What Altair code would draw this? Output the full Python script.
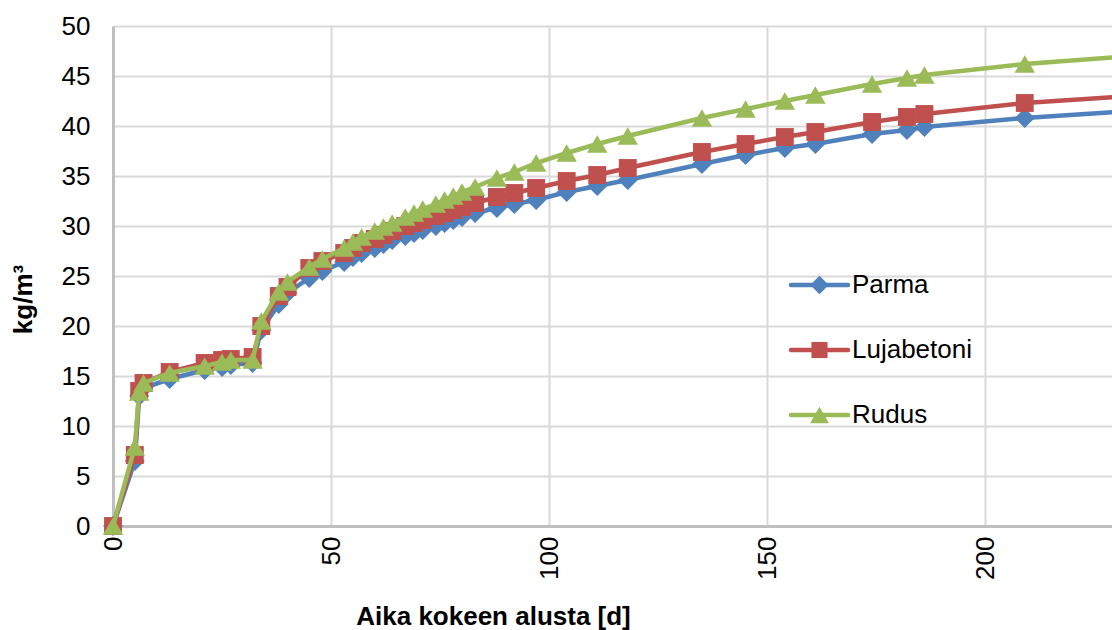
import altair as alt
import pandas as pd

# Measurement days (the last one lies past the right edge of the axis)
days = [0, 5, 6, 7, 13, 21, 25, 27, 32, 34, 38, 40, 45, 48, 53, 55, 57, 60, 62, 64,
        67, 69, 71, 74, 76, 78, 80, 83, 88, 92, 97, 104, 111, 118, 135, 145, 154,
        161, 174, 182, 186, 209, 237]

parma = [0, 6.5, 13.0, 13.8, 14.7, 15.6, 15.9, 16.1, 16.3, 19.6, 22.2, 23.3, 24.8,
         25.5, 26.4, 26.9, 27.3, 27.8, 28.2, 28.6, 29.0, 29.3, 29.6, 30.0, 30.3,
         30.6, 30.9, 31.3, 31.8, 32.2, 32.6, 33.4, 34.0, 34.6, 36.2, 37.1, 37.8,
         38.2, 39.2, 39.6, 39.9, 40.8, 41.6]

lujabetoni = [0, 7.1, 13.5, 14.3, 15.4, 16.3, 16.6, 16.7, 16.9, 20.0, 23.0, 23.9,
              25.8, 26.5, 27.3, 27.8, 28.3, 28.7, 29.1, 29.5, 30.0, 30.3, 30.6, 31.0,
              31.3, 31.6, 31.9, 32.3, 32.9, 33.3, 33.8, 34.5, 35.1, 35.8, 37.4, 38.2,
              38.9, 39.4, 40.4, 40.9, 41.2, 42.3, 43.1]

rudus = [0, 7.9, 13.4, 14.3, 15.3, 16.0, 16.4, 16.6, 16.6, 20.5, 23.4, 24.4, 25.9,
         26.7, 27.8, 28.4, 28.9, 29.5, 29.9, 30.3, 30.9, 31.3, 31.7, 32.2, 32.6,
         33.0, 33.4, 33.9, 34.8, 35.4, 36.3, 37.3, 38.2, 39.0, 40.8, 41.7, 42.5,
         43.1, 44.2, 44.8, 45.1, 46.2, 47.1]

series_names = ["Parma", "Lujabetoni", "Rudus"]
series_colors = ["#4F81BD", "#C0504D", "#9BBB59"]
marker_shapes = ["diamond", "square", "triangle-up"]
marker_sizes = [400, 320, 420]

X_MAX = 229
FONT = "Liberation Sans"
FS = 26

# Legend box layout inside the plot area (pixels)
LEG_X0, LEG_X1 = 678, 735
LEG_Y0, LEG_DY = 259, 65

rows = []
for name, vals in zip(series_names, [parma, lujabetoni, rudus]):
    for d, v in zip(days, vals):
        rows.append({"day": d, "value": v, "series": name})
df = pd.DataFrame(rows)

x_enc = alt.X(
    "day:Q",
    scale=alt.Scale(domain=[0, X_MAX], nice=False, zero=False),
    axis=alt.Axis(
        values=[0, 50, 100, 150, 200],
        labelAngle=270,
        labelAlign="right",
        labelBaseline="middle",
        labelPadding=10,
        labelFontSize=FS,
        labelFont=FONT,
        labelColor="#000000",
        title="Aika kokeen alusta [d]",
        titleFont=FONT,
        titleFontSize=FS,
        titleFontWeight="bold",
        titleColor="#000000",
        titleX=380,
        titleY=98,
        titleAlign="center",
        titleBaseline="alphabetic",
        ticks=False,
        domainColor="#BFBFBF",
        domainWidth=3,
        gridColor="#D9D9D9",
        gridWidth=2,
    ),
)

y_enc = alt.Y(
    "value:Q",
    scale=alt.Scale(domain=[0, 50], nice=False),
    axis=alt.Axis(
        values=list(range(0, 51, 5)),
        labelPadding=23,
        labelFontSize=FS,
        labelFont=FONT,
        labelColor="#000000",
        title="kg/m³",
        titleFont=FONT,
        titleFontSize=FS,
        titleFontWeight="bold",
        titleColor="#000000",
        titleAngle=270,
        titleX=-90,
        titleY=273,
        titleAlign="center",
        titleBaseline="middle",
        ticks=False,
        domainColor="#BFBFBF",
        domainWidth=3,
        gridColor="#D9D9D9",
        gridWidth=2,
    ),
)

color_scale = alt.Scale(domain=series_names, range=series_colors)

base = alt.Chart(df)

layers = []
for name, shape, size in zip(series_names, marker_shapes, marker_sizes):
    sub = base.transform_filter(alt.datum.series == name)
    line = sub.mark_line(strokeWidth=4.5, clip=True).encode(
        x=x_enc, y=y_enc,
        color=alt.Color("series:N", scale=color_scale, legend=None),
        order="day:Q",
    )
    pts = sub.transform_filter(alt.datum.day <= X_MAX).mark_point(
        shape=shape, size=size, filled=True, opacity=1
    ).encode(
        x=x_enc, y=y_enc,
        color=alt.Color("series:N", scale=color_scale, legend=None),
    )
    layers += [line, pts]

# Legend: line sample with marker and label for each series
for i, (name, color, shape, size) in enumerate(
        zip(series_names, series_colors, marker_shapes, marker_sizes)):
    ly = LEG_Y0 + i * LEG_DY
    entry = alt.Chart(pd.DataFrame({"label": [name]}))
    layers.append(entry.mark_rule(color=color, strokeWidth=4.5, strokeCap="round").encode(
        x=alt.value(LEG_X0), x2=alt.value(LEG_X1), y=alt.value(ly)))
    layers.append(entry.mark_point(shape=shape, size=size - 60, filled=True,
                                   color=color, opacity=1).encode(
        x=alt.value((LEG_X0 + LEG_X1) / 2), y=alt.value(ly)))
    layers.append(entry.mark_text(font=FONT, fontSize=FS, color="#000000",
                                  align="left", baseline="middle").encode(
        x=alt.value(LEG_X1 + 4), y=alt.value(ly), text="label:N"))

chart = alt.layer(*layers).properties(
    width=999,
    height=500,
    autosize=alt.AutoSizeParams(type="none"),
    padding={"left": 113, "top": 26, "right": 0, "bottom": 104},
    background="#FFFFFF",
).configure_view(stroke=None)

chart.save("out.html", embed_options={"renderer": "svg", "actions": False})
